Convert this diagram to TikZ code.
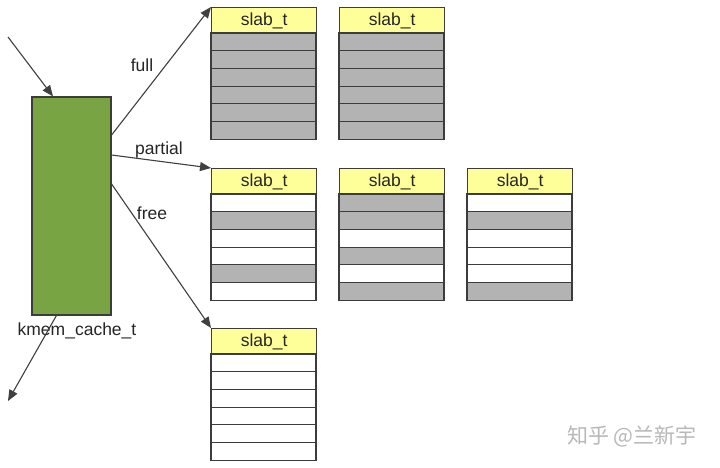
\documentclass[tikz,border=0pt]{standalone}
\usepackage{fontspec}
\setmainfont{Liberation Sans}
\newfontfamily\cjk{Noto Sans CJK SC}
\usetikzlibrary{arrows.meta}
\definecolor{cachegreen}{HTML}{78A444}
\definecolor{slabyellow}{HTML}{FFFF99}
\definecolor{objgray}{HTML}{B3B3B3}
\definecolor{edgegray}{HTML}{3C3C3C}
\tikzset{
  cachebox/.style={draw=edgegray,line width=1.2pt,fill=cachegreen,minimum width=79pt,minimum height=218pt,inner sep=0pt},
  slabhead/.style={draw=edgegray,line width=1.2pt,fill=slabyellow,minimum width=105pt,minimum height=26pt,inner sep=0pt,anchor=north west,font=\fontsize{17.5}{17.5}\selectfont,text=black!85},
  objrow/.style={draw=edgegray,line width=1.2pt},
  lbl/.style={font=\fontsize{17.5}{17.5}\selectfont,text=black!85},
  ptr/.style={draw=black!75,line width=1.1pt,-{Triangle[length=11pt,width=9pt]}},
}
% one slab: header node plus six object rows
\newcommand{\slab}[4]{%
  \node[slabhead] (#1) at (#2,#3) {slab\_t};
  \foreach \c [count=\i from 0] in {#4}
    \draw[objrow,fill=\c] (#2,{#3+26+\i*17.7}) rectangle ++(105,17.7);
}
\begin{document}
\begin{tikzpicture}[x=1pt,y=-1pt]
	\fill[white] (0,0) rectangle (720,467);
	\useasboundingbox (0,0) rectangle (720,467);
	\node[cachebox] (cache) at (71.5,206) {};
	\node[lbl] (cachename) at (77,331) {kmem\_cache\_t};
	% full
	\slab{full1}{211}{7}{objgray,objgray,objgray,objgray,objgray,objgray}
	\slab{full2}{339}{7}{objgray,objgray,objgray,objgray,objgray,objgray}
	% partial
	\slab{part1}{211}{168}{white,objgray,white,white,objgray,white}
	\slab{part2}{339}{168}{objgray,objgray,white,objgray,white,objgray}
	\slab{part3}{467}{168}{white,objgray,white,white,white,objgray}
	% free
	\slab{free1}{211}{328}{white,white,white,white,white,white}
	\coordinate (cin) at (8,37);
	\coordinate (cout) at (8,401);
	\draw[ptr] (cin) -- ([xshift=-18.5pt]cache.north);
	\draw[ptr] ([xshift=25pt]cache.south west) -- (cout);
	\draw[ptr] (cache.east |- 0,135) -- (full1.north west);
	\draw[ptr] (cache.east |- 0,155) -- (part1.north west);
	\draw[ptr] (cache.east |- 0,184) -- (free1.north west);
	\node[lbl] (fulltxt) at (142,65) {full};
	\node[lbl] (parttxt) at (159,150) {partial};
	\node[lbl] (freetxt) at (152,213) {free};
	\node[font=\cjk\fontsize{21}{21}\selectfont,text=black!28] (mark) at (632,436) {知乎 @兰新宇};
\end{tikzpicture}
\end{document}
